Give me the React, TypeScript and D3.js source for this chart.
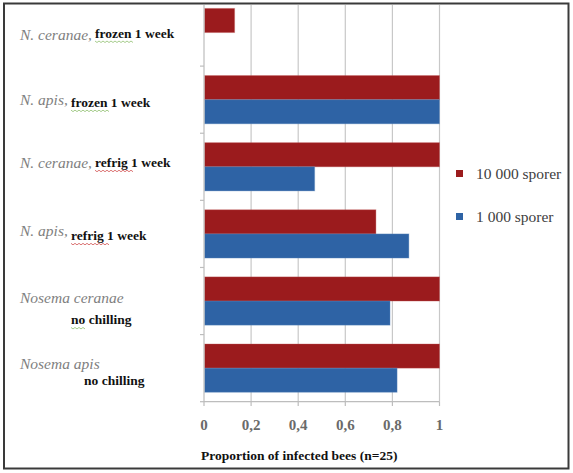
import { useRef, useEffect } from "react";
import * as d3 from "d3";

// categories top -> bottom
const species = ["N. ceranae,", "N. apis,", "N. ceranae,", "N. apis,", "Nosema ceranae", "Nosema apis"];
const treatments = ["frozen 1 week", "frozen 1 week", "refrig 1 week", "refrig 1 week", "no chilling", "no chilling"];
const seriesNames = ["10 000 sporer", "1 000 sporer"];
const high = [0.13, 1, 1, 0.73, 1, 1];
const low = [0, 1, 0.47, 0.87, 0.79, 0.82];
const ticks = [0, 0.2, 0.4, 0.6, 0.8, 1];

const colors = ["#9b1b1d", "#2e63a5"];
const serif = "'Liberation Serif', 'Times New Roman', serif";

// label layout (offsets from band top), per row
const labelLayout = [
  { sy: 41, tx: 95, ty: 39, squiggle: "#8fbf6f" },
  { sy: 39, tx: 71, ty: 41, squiggle: "#8fbf6f" },
  { sy: 35, tx: 95, ty: 34, squiggle: "#d05050" },
  { sy: 35.5, tx: 71, ty: 40, squiggle: "#d05050" },
  { sy: 36, tx: 71, ty: 57, squiggle: "#8fbf6f" },
  { sy: 34, tx: 84, ty: 50, squiggle: null },
];

export default function App() {
  const svgRef = useRef(null);

  useEffect(() => {
    const W = 573, H = 473;
    const svg = d3.select(svgRef.current);
    svg.selectAll("*").remove();

    const x = d3.scaleLinear().domain([0, 1]).range([204, 439.5]);
    const y = d3.scaleBand().domain(d3.range(species.length).map(String)).range([-1, 401.7]);
    const inner = d3.scaleBand().domain(["0", "1"]).range([0, y.bandwidth()]).paddingOuter(0.39).paddingInner(0);

    svg.append("rect").attr("width", W).attr("height", H).attr("fill", "#fff");

    const g = svg.append("g");

    // gridlines
    g.selectAll("line.grid")
      .data(ticks.slice(1))
      .join("line")
      .attr("x1", (d) => x(d)).attr("x2", (d) => x(d))
      .attr("y1", 5).attr("y2", 401.7)
      .attr("stroke", "#c8c8c8").attr("stroke-width", 1.2);

    // bars
    const rows = species.map((s, i) => ({ i, vals: [high[i], low[i]] }));
    rows.forEach((r) => {
      r.vals.forEach((v, k) => {
        if (v <= 0) return;
        g.append("rect")
          .attr("x", x(0) + 0.5)
          .attr("y", (y(String(r.i)) as number) + (inner(String(k)) as number))
          .attr("width", x(v) - x(0) - 0.5)
          .attr("height", inner.bandwidth())
          .attr("fill", colors[k])
          .attr("stroke", k === 0 ? "#c0585a" : "#6b93c4")
          .attr("stroke-opacity", 0.35)
          .attr("stroke-width", 1);
      });
    });

    // axes lines
    g.append("line").attr("x1", x(0)).attr("x2", x(0)).attr("y1", 5).attr("y2", 401.7)
      .attr("stroke", "#bdbdbd").attr("stroke-width", 1.2);
    g.append("line").attr("x1", x(0)).attr("x2", x(1)).attr("y1", 401.7).attr("y2", 401.7)
      .attr("stroke", "#bdbdbd").attr("stroke-width", 1.2);

    // category ticks
    g.selectAll("line.ytick")
      .data(d3.range(1, species.length + 1))
      .join("line")
      .attr("x1", x(0) - 4).attr("x2", x(0))
      .attr("y1", (d) => (y.range()[0] as number) + d * y.step())
      .attr("y2", (d) => (y.range()[0] as number) + d * y.step())
      .attr("stroke", "#bdbdbd").attr("stroke-width", 1.2);

    // x ticks
    g.selectAll("line.xtick")
      .data(ticks)
      .join("line")
      .attr("x1", (d) => x(d)).attr("x2", (d) => x(d))
      .attr("y1", 401.7).attr("y2", 406)
      .attr("stroke", "#bdbdbd").attr("stroke-width", 1.2);

    g.selectAll("text.xtl")
      .data(ticks)
      .join("text")
      .attr("x", (d) => x(d))
      .attr("y", 430)
      .attr("text-anchor", "middle")
      .attr("font-family", serif)
      .attr("font-size", 15)
      .attr("font-weight", "bold")
      .attr("fill", "#6a6a6a")
      .text((d) => d3.format(".1~f")(d).replace(".", ","));

    g.append("text")
      .attr("x", 201).attr("y", 460)
      .attr("font-family", serif)
      .attr("font-size", 13.5)
      .attr("font-weight", "bold")
      .attr("fill", "#111")
      .text("Proportion of infected bees (n=25)");

    // left labels
    species.forEach((s, i) => {
      const top = y(String(i)) as number;
      const L = labelLayout[i];
      g.append("text")
        .attr("x", 20).attr("y", top + L.sy)
        .attr("font-family", serif)
        .attr("font-style", "italic")
        .attr("font-size", 15.5)
        .attr("fill", "#808080")
        .text(s);
      g.append("text")
        .attr("x", L.tx).attr("y", top + L.ty)
        .attr("font-family", serif)
        .attr("font-weight", "bold")
        .attr("font-size", 13.5)
        .attr("fill", "#111")
        .text(treatments[i]);
      if (L.squiggle) {
        const word = treatments[i].split(" ")[0];
        const w = word.length * 6.2;
        const y0 = top + L.ty + 3;
        const pts: [number, number][] = d3.range(0, Math.ceil(w / 2) + 1).map((k) => [L.tx + k * 2, y0 + (k % 2) * 1.5]);
        g.append("path")
          .attr("d", d3.line()(pts))
          .attr("fill", "none")
          .attr("stroke", L.squiggle)
          .attr("stroke-width", 0.8);
      }
    });

    // legend
    seriesNames.forEach((n, k) => {
      const cy = 173.5 + k * 43;
      g.append("rect")
        .attr("x", 456).attr("y", cy - 3.5)
        .attr("width", 7).attr("height", 7)
        .attr("fill", colors[k]);
      g.append("text")
        .attr("x", 476).attr("y", cy + 5)
        .attr("font-family", serif)
        .attr("font-size", 15.5)
        .attr("fill", "#404040")
        .text(n);
    });

    // frame
    svg.append("rect")
      .attr("x", 4).attr("y", 3.5)
      .attr("width", 564.5).attr("height", 465)
      .attr("fill", "none")
      .attr("stroke", "#3a3a3a")
      .attr("stroke-width", 2);
  }, []);

  return (
    <svg
      ref={svgRef}
      width={573}
      height={473}
      style={{ position: "absolute", left: 0, top: 0, display: "block" }}
    />
  );
}
